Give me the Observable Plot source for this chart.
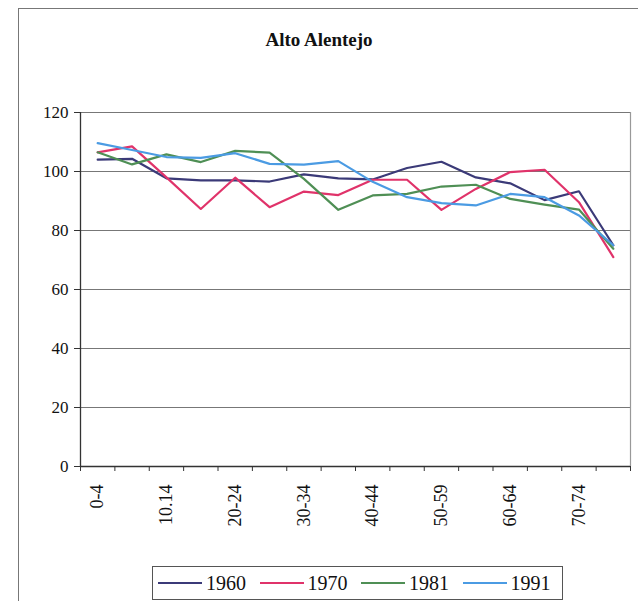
<!DOCTYPE html>
<html><head><meta charset="utf-8">
<script src="https://cdn.jsdelivr.net/npm/d3@7"></script>
<script src="https://cdn.jsdelivr.net/npm/@observablehq/plot@0.6"></script>
<style>
body{margin:0;background:#fff;font-family:'Liberation Serif','Times New Roman',Times,'DejaVu Serif',serif;width:638px;height:601px;overflow:hidden;position:relative;}
#frame{position:absolute;left:18px;top:8px;width:640px;height:600px;border-left:1px solid #777;border-top:1px solid #777;}
#title{position:absolute;left:0;width:638px;top:29px;text-align:center;font-weight:bold;font-size:19px;color:#111;}
#chart{position:absolute;left:0;top:95px;}
#legend{position:absolute;left:152px;top:566px;width:411px;height:34px;border:1px solid #555;box-sizing:border-box;display:flex;align-items:center;padding-left:4px;font-size:20px;color:#111;}
#legend .item{display:flex;align-items:center;width:101.5px;flex:none;}
#legend svg{margin-right:3px;}
</style></head>
<body>
<div id="frame"></div>
<div id="title">Alto Alentejo</div>
<div id="chart"></div>
<div id="legend"></div>
<script>
const ageGroups = ["0-4","5-9","10.14","15-19","20-24","25-29","30-34","35-39","40-44","45-49","50-59","55-59","60-64","65-69","70-74","75+"];
const shownLabels = ["0-4","","10.14","","20-24","","30-34","","40-44","","50-59","","60-64","","70-74",""];
const years = ["1960","1970","1981","1991"];
const colors = ["#3b3a78","#e0336a","#4f8f55","#4b9be3"];
const v1960 = [104,104.3,97.7,97,97,96.6,99,97.7,97.3,101.2,103.3,98,96,90.3,93.3,75];
const v1970 = [106.5,108.5,98,87.3,97.9,87.9,93.2,92,97.2,97.2,87,94.1,99.8,100.6,89.6,71];
const v1981 = [106.5,102.4,105.8,103.2,107,106.4,97.5,87,91.9,92.4,94.9,95.5,90.7,88.8,87.1,73.8];
const v1991 = [109.6,107.3,104.9,104.6,106.2,102.6,102.3,103.5,96.5,91.3,89.3,88.5,92.4,91.3,85.1,75];
const yTicks = [0,20,40,60,80,100,120];

const series = [v1960,v1970,v1981,v1991];
const data = [];
years.forEach((y,k)=>series[k].forEach((v,i)=>data.push({series:y,i,v})));

const bounds = d3.range(-0.5,16,1);
const labelTicks = d3.range(0,16,2);
const serif = "'Liberation Serif','Times New Roman',Times,'DejaVu Serif',serif";

const chart = Plot.plot({
  width:638, height:465,
  marginLeft:80, marginRight:8, marginTop:17, marginBottom:94,
  style:{fontFamily:serif, background:"transparent", color:"#111"},
  x:{type:"linear", domain:[-0.5,15.5]},
  y:{domain:[0,120]},
  color:{domain:years, range:colors},
  marks:[
    Plot.ruleY(yTicks.slice(1), {stroke:"#777", strokeWidth:1.2}),
    Plot.ruleX([15.5], {stroke:"#999", strokeWidth:1.2}),
    Plot.line(data, {x:"i", y:"v", stroke:"series", strokeWidth:2.2}),
    Plot.ruleY([0], {stroke:"#333", strokeWidth:1.3}),
    Plot.ruleX([-0.5], {stroke:"#333", strokeWidth:1.3}),
    Plot.axisY({ticks:yTicks, tickSize:6, tickPadding:6, fontSize:17, label:null, stroke:"#333", fontFamily:serif}),
    Plot.axisX({ticks:bounds, tickFormat:()=>"", tickSize:5, label:null, stroke:"#333"}),
    Plot.axisX({ticks:labelTicks, tickFormat:i=>shownLabels[i], tickRotate:-90, tickSize:0, tickPadding:18, fontSize:18, label:null, fontFamily:serif})
  ]
});
document.getElementById("chart").appendChild(chart);

const leg = document.getElementById("legend");
years.forEach((y,k)=>{
  const d = document.createElement("div");
  d.className="item";
  d.innerHTML = `<svg width="46" height="10"><line x1="1" x2="45" y1="5" y2="5" stroke="${colors[k]}" stroke-width="2"/></svg><span>${y}</span>`;
  leg.appendChild(d);
});
</script>
</body></html>
